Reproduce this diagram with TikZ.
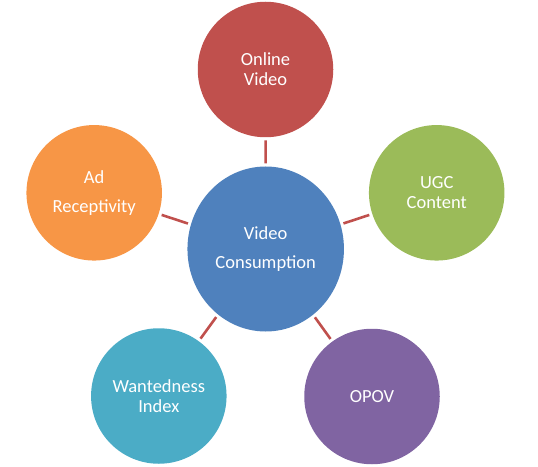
\documentclass[tikz,border=0pt]{standalone}
\usepackage{fontspec}
\setmainfont{Carlito}
\usetikzlibrary{shapes.geometric}
\definecolor{cred}{HTML}{C0504D}
\definecolor{cblue}{HTML}{4F81BD}
\definecolor{cgreen}{HTML}{9BBB59}
\definecolor{cpurple}{HTML}{8064A2}
\definecolor{cteal}{HTML}{4BACC6}
\definecolor{corange}{HTML}{F79646}
\begin{document}
\begin{tikzpicture}[x=1bp,y=-1bp,
  bub/.style={circle, minimum size=135.5bp, inner sep=0pt, text=white, align=center,
    font=\fontsize{18.5bp}{20bp}\selectfont},
  hub/.style={ellipse, minimum width=156.5bp, minimum height=165bp, inner sep=0pt, text=white,
    align=center, font=\fontsize{18.5bp}{20bp}\selectfont},
  link/.style={draw=cred, line width=2.6bp, shorten >=3bp, shorten <=3bp}]
\useasboundingbox (0,0) rectangle (538,467);
\node[hub, fill=cblue] (c) at (265.7,249) {Video\\[9bp]Consumption};
\node[bub, fill=cred] (ov) at (265.5,69.5) {Online\\Video};
\node[bub, fill=cgreen] (ugc) at (436.7,192.8) {UGC\\Content};
\node[bub, fill=cpurple] (opov) at (372,396.5) {OPOV};
\node[bub, fill=cteal] (wi) at (158.8,396) {Wantedness\\Index};
\node[bub, fill=corange] (ad) at (94.2,192.8) {Ad\\[9bp]Receptivity};
\draw[link] (ov) -- (c);
\draw[link] (ugc) -- (c);
\draw[link] (opov) -- (c);
\draw[link] (wi) -- (c);
\draw[link] (ad) -- (c);
\end{tikzpicture}
\end{document}
